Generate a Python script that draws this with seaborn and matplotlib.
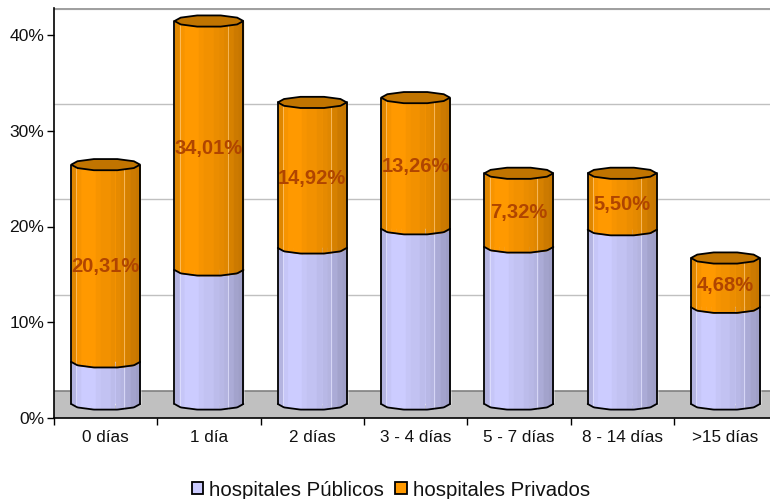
import matplotlib.pyplot as plt
import numpy as np
import pandas as pd
import seaborn as sns
from matplotlib.colors import to_rgb
from matplotlib.patches import Patch, Polygon

dias = ['0 días', '1 día', '2 días', '3 - 4 días', '5 - 7 días', '8 - 14 días', '>15 días']
publicos = [4.4, 14.0, 16.3, 18.3, 16.4, 18.2, 10.1]
privados = [20.6, 26.0, 15.2, 13.7, 7.7, 5.9, 5.15]
etiquetas = ['20,31%', '34,01%', '14,92%', '13,26%', '7,32%', '5,50%', '4,68%']
y_ticks = [0, 10, 20, 30, 40]

AZUL = '#CCCCFF'
NARANJA = '#FF9900'
TAPA = '#C07400'
ANCHO = 0.667
BASE = 1.46      # the cylinders stand a bit above the axis
PARED = 2.82     # height of the floor / shift of the back wall grid
ARCO = 0.62      # half height of the rim
# shading of the facets, left to right
facetas = [0.88, 0.97, 1.0, 1.0, 1.0, 0.97, 0.95, 0.95, 0.92, 0.90, 0.88, 0.84, 0.80, 0.78]
# the rim is a low polygon, not a true ellipse
ang = np.radians([0, 35, 70, 110, 145, 180, 215, 250, 290, 325, 360])

sns.set_style('white')
plt.rcParams['font.family'] = ['Liberation Sans', 'DejaVu Sans']

df = pd.DataFrame({'dias': dias, 'pub': publicos, 'priv': privados})
df['total'] = df['pub'] + df['priv']

fig = plt.figure(figsize=(7.7, 4.99), dpi=100)
ax = fig.add_axes([54 / 770, 1 - 418 / 499, (770 - 54) / 770, 410 / 499])

# back wall and floor
ax.axhspan(0, PARED, color='#C0C0C0', lw=0, zorder=0)
for t in y_ticks[1:]:
    ax.axhline(t + PARED, color='#C0C0C0', lw=1, zorder=0)
ax.axhline(y_ticks[-1] + PARED, color='#A0A0A0', lw=3, zorder=0)
ax.axhline(PARED, color='#808080', lw=1.2, zorder=0)

sns.barplot(data=df, x='dias', y='total', bottom=BASE, color=NARANJA, width=ANCHO,
            saturation=1, ax=ax, zorder=1)
sns.barplot(data=df, x='dias', y='pub', bottom=BASE, color=AZUL, width=ANCHO,
            saturation=1, ax=ax, zorder=1)


def arco_bajo(xs, c):
    u = np.cos(ang[5:11])
    v = np.sin(ang[5:11])
    return ARCO * np.interp((xs - c) / (ANCHO / 2), u, v)


def tramo(c, y0, y1, color):
    bordes = c - ANCHO / 2 + ANCHO * np.arange(len(facetas) + 1) / len(facetas)
    rgb = np.array(to_rgb(color))
    for i, f in enumerate(facetas):
        xs = np.linspace(bordes[i], bordes[i + 1], 5)
        ax.fill_between(xs, y0 + arco_bajo(xs, c), y1, color=rgb * f, lw=0.3, zorder=2)
    for frac in [0.075, 0.77]:
        x_luz = c - ANCHO / 2 + ANCHO * frac
        ax.plot([x_luz, x_luz], [y0 + arco_bajo(np.array([x_luz]), c)[0], y1],
                color=rgb * 0.5 + 0.5, lw=0.7, alpha=0.7, zorder=2)
    xs = np.linspace(c - ANCHO / 2, c + ANCHO / 2, 60)
    ax.plot(xs, y0 + arco_bajo(xs, c), color='black', lw=1.3, zorder=3)
    ax.plot([xs[0], xs[0]], [y0, y1], color='black', lw=1.3, zorder=3)
    ax.plot([xs[-1], xs[-1]], [y0, y1], color='black', lw=1.3, zorder=3)


for i in range(len(dias)):
    y_pub = BASE + publicos[i]
    y_top = y_pub + privados[i]
    tramo(i, BASE, y_pub, AZUL)
    tramo(i, y_pub, y_top, NARANJA)
    ax.add_patch(Polygon(np.c_[i + ANCHO / 2 * np.cos(ang), y_top + ARCO * np.sin(ang)],
                         facecolor=TAPA, edgecolor='black', lw=1.3, zorder=4))
    ax.text(i, BASE + publicos[i] + privados[i] / 2 - 0.3, etiquetas[i], ha='center', va='center',
            fontsize=14.5, fontweight='bold', color='#B04500', zorder=5)

ax.set_xlim(-0.5, -0.5 + (770 - 54) / 103.3)
ax.set_ylim(0, 410 / 9.575)
ax.set_xlabel('')
ax.set_ylabel('')
ax.set_yticks(y_ticks)
ax.set_yticklabels([f'{t}%' for t in y_ticks], fontsize=12.6, color='#111111')
pos = np.arange(len(dias))
ax.set_xticks(pos - 0.5)
ax.set_xticklabels([])
ax.set_xticks(pos, labels=dias, minor=True, fontsize=12.3, color='#111111')
ax.tick_params(axis='x', which='major', length=5, width=1, color='black', bottom=True)
ax.tick_params(axis='x', which='minor', length=0, pad=9)
ax.tick_params(axis='y', length=5, width=1, color='black', left=True, pad=2)
for lado in ['top', 'right']:
    ax.spines[lado].set_visible(False)
for lado in ['left', 'bottom']:
    ax.spines[lado].set_color('black')
    ax.spines[lado].set_linewidth(1.2)

fig.legend(handles=[Patch(facecolor=AZUL, edgecolor='black', lw=1.3, label='hospitales Públicos'),
                    Patch(facecolor=NARANJA, edgecolor='black', lw=1.3, label='hospitales Privados')],
           loc='center', bbox_to_anchor=(391 / 770, 1 - 490 / 499), ncol=2, frameon=False,
           fontsize=14.7, handlelength=0.56, handleheight=0.56, handletextpad=0.3, columnspacing=0.54,
           labelcolor='#111111', borderpad=0)

fig.savefig('out.png', dpi=100)
